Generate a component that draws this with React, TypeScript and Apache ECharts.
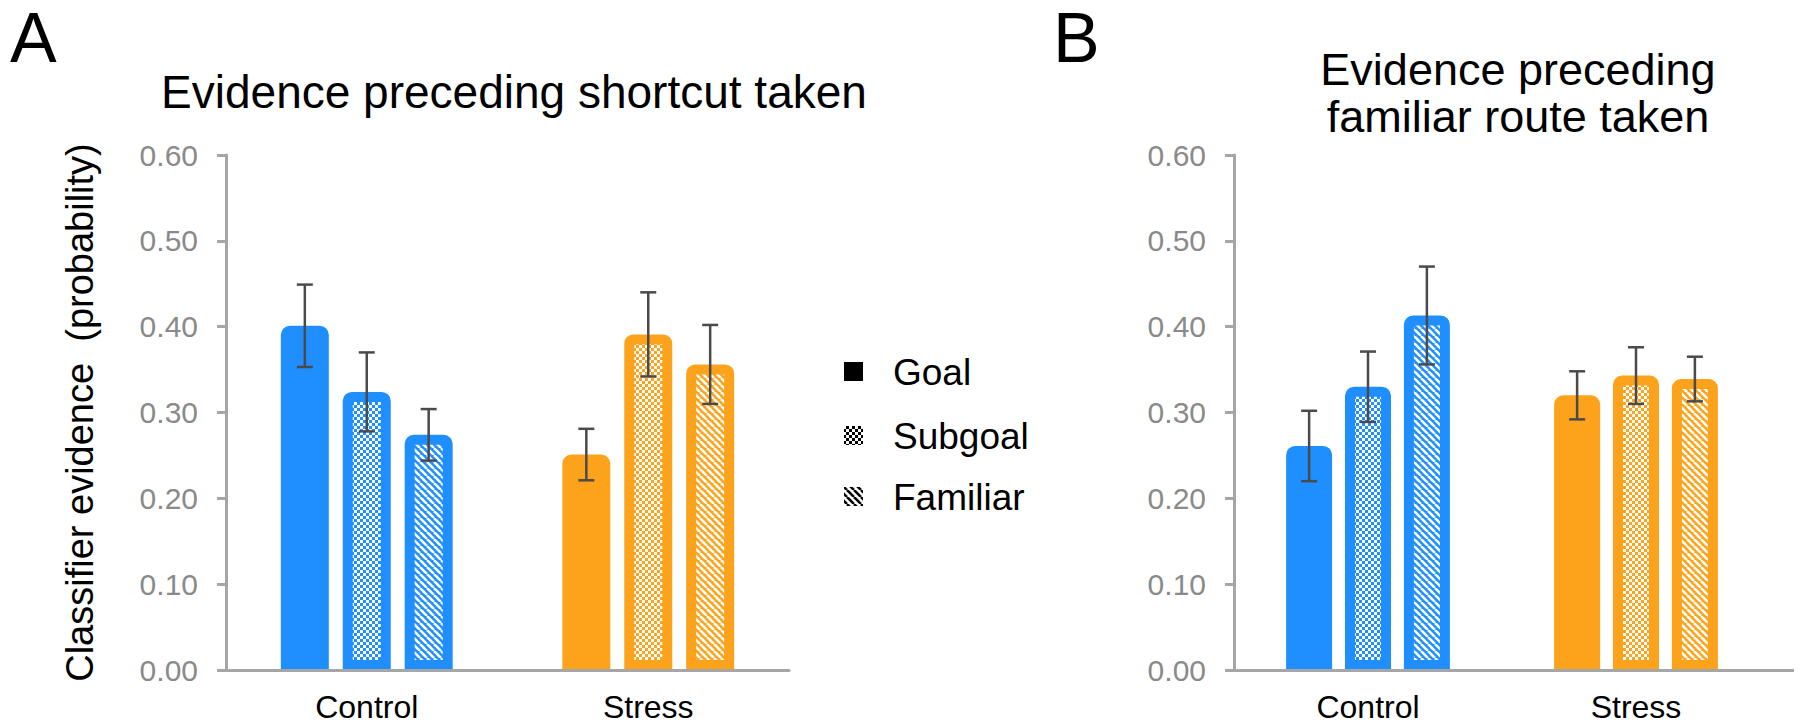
import { useEffect, useRef } from 'react';
import * as echarts from 'echarts';

// ---------- data ----------
const categories = ['Control', 'Stress'];
const seriesNames = ['Goal', 'Subgoal', 'Familiar'];
const yTickMin = 0;
const yTickMax = 0.6;
const yTickStep = 0.1;

// Panel A: evidence preceding shortcut taken
const shortcutGoal = [0.401, 0.251];
const shortcutSubgoal = [0.324, 0.391];
const shortcutFamiliar = [0.274, 0.356];
const shortcutGoalErr = [0.048, 0.030];
const shortcutSubgoalErr = [0.046, 0.049];
const shortcutFamiliarErr = [0.030, 0.046];

// Panel B: evidence preceding familiar route taken
const familiarGoal = [0.261, 0.320];
const familiarSubgoal = [0.330, 0.343];
const familiarFamiliar = [0.413, 0.339];
const familiarGoalErr = [0.041, 0.028];
const familiarSubgoalErr = [0.041, 0.033];
const familiarFamiliarErr = [0.057, 0.026];

const titleA = 'Evidence preceding shortcut taken';
const titleB = 'Evidence preceding\nfamiliar route taken';
const yAxisName = 'Classifier evidence  (probability)';

// ---------- styles ----------
const BLUE = '#1F8FFF';
const ORANGE = '#FDA31B';
const AXIS = '#A6A6A6';
const TICKTXT = '#8A8A8A';
const ERR = '#4A4A4A';
const FONT = '"Liberation Sans", Arial, sans-serif';
const groupColors = [BLUE, ORANGE];
const kinds = ['solid', 'dots', 'stripes'];

function makeTile(kind: string, bg: string, fg: string): any {
  const s = kind === 'dots' ? 6 : 7;
  const c = document.createElement('canvas');
  c.width = s;
  c.height = s;
  const ctx = c.getContext('2d')!;
  ctx.fillStyle = bg;
  ctx.fillRect(0, 0, s, s);
  ctx.fillStyle = fg;
  ctx.strokeStyle = fg;
  if (kind === 'dots') {
    ctx.fillRect(0, 0, 3, 3);
    ctx.fillRect(3, 3, 3, 3);
  } else {
    ctx.lineWidth = 2.6;
    for (const k of [-s, 0, s]) {
      ctx.beginPath();
      ctx.moveTo(k, 0);
      ctx.lineTo(k + s, s);
      ctx.stroke();
    }
  }
  return { image: c, repeat: 'repeat', imageWidth: s, imageHeight: s };
}

export default function App() {
  const ref = useRef<HTMLDivElement>(null);

  useEffect(() => {
    if (!ref.current) return;
    const chart = echarts.init(ref.current, null, { renderer: 'svg' });

    const panels = [
      {
        values: [shortcutGoal, shortcutSubgoal, shortcutFamiliar],
        errs: [shortcutGoalErr, shortcutSubgoalErr, shortcutFamiliarErr],
        barWidth: 48,
        gap: 0.29,
      },
      {
        values: [familiarGoal, familiarSubgoal, familiarFamiliar],
        errs: [familiarGoalErr, familiarSubgoalErr, familiarFamiliarErr],
        barWidth: 46,
        gap: 0.28,
      },
    ];

    const grids = [
      { left: 226, top: 155, width: 563, height: 515 },
      { left: 1234, top: 155, width: 536, height: 515 },
    ];

    const xAxes = grids.map((_, g) => ({
      type: 'category',
      gridIndex: g,
      data: categories,
      z: 6,
      axisLine: { show: true, lineStyle: { color: AXIS, width: 3 } },
      axisTick: { show: false },
      axisLabel: { color: '#000', fontSize: 32, fontFamily: FONT, margin: 21 },
    }));

    const yAxes = grids.map((_, g) => ({
      type: 'value',
      gridIndex: g,
      min: yTickMin,
      max: yTickMax,
      interval: yTickStep,
      z: 6,
      name: g === 0 ? yAxisName : '',
      nameLocation: 'middle',
      nameRotate: 90,
      nameGap: 127,
      nameTextStyle: { color: '#000', fontSize: 38, fontFamily: FONT },
      axisLine: { show: true, lineStyle: { color: AXIS, width: 3 } },
      axisTick: { show: true, inside: false, length: 9, lineStyle: { color: AXIS, width: 3 } },
      splitLine: { show: false },
      axisLabel: {
        color: TICKTXT,
        fontSize: 30,
        fontFamily: FONT,
        margin: 28,
        formatter: (v: number) => v.toFixed(2),
      },
    }));

    const series: any[] = [];
    panels.forEach((p, g) => {
      p.values.forEach((vals, si) => {
        series.push({
          type: 'bar',
          name: seriesNames[si],
          xAxisIndex: g,
          yAxisIndex: g,
          barWidth: p.barWidth,
          barGap: `${Math.round(p.gap * 100)}%`,
          z: 2,
          data: vals.map((v, ci) => {
            const col = groupColors[ci];
            return {
              value: v,
              itemStyle: {
                color: kinds[si] === 'solid' ? col : makeTile(kinds[si], col, '#ffffff'),
                borderColor: col,
                borderWidth: 10,
                borderRadius: [4, 4, 0, 0],
              },
            };
          }),
        });
      });
      const spacing = p.barWidth * (1 + p.gap);
      const rows: number[][] = [];
      p.values.forEach((vals, si) => {
        vals.forEach((v, ci) => {
          const e = p.errs[si][ci];
          rows.push([ci, si, v - e, v + e]);
        });
      });
      series.push({
        type: 'custom',
        xAxisIndex: g,
        yAxisIndex: g,
        z: 8,
        encode: { x: 0, y: [2, 3] },
        data: rows,
        renderItem: (_params: any, api: any) => {
          const cat = api.value(0);
          const bi = api.value(1);
          const lo = api.coord([cat, api.value(2)]);
          const hi = api.coord([cat, api.value(3)]);
          const x = lo[0] + (bi - 1) * spacing;
          const cap = 8;
          const style = { stroke: ERR, lineWidth: 2.5 };
          return {
            type: 'group',
            children: [
              { type: 'line', shape: { x1: x, y1: hi[1], x2: x, y2: lo[1] }, style },
              { type: 'line', shape: { x1: x - cap, y1: hi[1], x2: x + cap, y2: hi[1] }, style },
              { type: 'line', shape: { x1: x - cap, y1: lo[1], x2: x + cap, y2: lo[1] }, style },
            ],
          };
        },
      });
    });

    const legendIcons = kinds.map((k) =>
      k === 'solid' ? '#000000' : makeTile(k, '#ffffff', '#000000')
    );
    const legendRowY = [372, 436, 497];

    const graphic: any[] = [
      // mask below x axes (hides bar border overflow)
      { type: 'rect', z: 100, shape: { x: 200, y: 672, width: 600, height: 8 }, style: { fill: '#fff' } },
      { type: 'rect', z: 100, shape: { x: 1210, y: 672, width: 590, height: 8 }, style: { fill: '#fff' } },
      // extension of panel B axis line
      { type: 'line', z: 100, shape: { x1: 1770, y1: 670.5, x2: 1794, y2: 670.5 }, style: { stroke: AXIS, lineWidth: 3 } },
      { type: 'text', x: 10, y: 38, style: { text: 'A', fontSize: 70, fontFamily: FONT, fill: '#000', textVerticalAlign: 'middle' } },
      { type: 'text', x: 1053, y: 38, style: { text: 'B', fontSize: 70, fontFamily: FONT, fill: '#000', textVerticalAlign: 'middle' } },
      { type: 'text', x: 514, y: 92, style: { text: titleA, fontSize: 46, fontFamily: FONT, fill: '#000', textAlign: 'center', textVerticalAlign: 'middle' } },
      { type: 'text', x: 1518, y: 93, style: { text: titleB, fontSize: 45, lineHeight: 47, fontFamily: FONT, fill: '#000', textAlign: 'center', textVerticalAlign: 'middle' } },
    ];
    seriesNames.forEach((n, i) => {
      graphic.push({
        type: 'rect',
        shape: { x: 844, y: legendRowY[i] - 10, width: 19, height: 19 },
        style: { fill: legendIcons[i] },
      });
      graphic.push({
        type: 'text',
        x: 893,
        y: legendRowY[i],
        style: { text: n, fontSize: 37, fontFamily: FONT, fill: '#000', textVerticalAlign: 'middle' },
      });
    });

    chart.setOption({
      animation: false,
      backgroundColor: '#ffffff',
      grid: grids,
      xAxis: xAxes,
      yAxis: yAxes,
      series,
      graphic,
    });

    return () => chart.dispose();
  }, []);

  return (
    <div
      ref={ref}
      style={{ position: 'fixed', left: 0, top: 0, width: 1800, height: 727, background: '#fff' }}
    />
  );
}
